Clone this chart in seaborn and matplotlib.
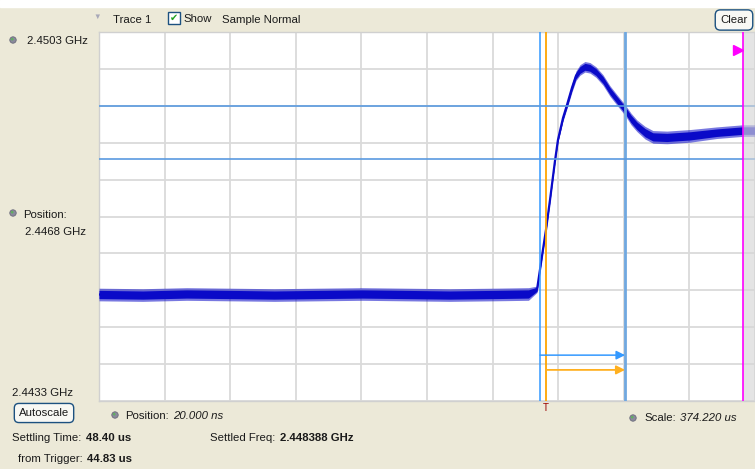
import numpy as np
import matplotlib
matplotlib.use('Agg')
import matplotlib.pyplot as plt
import seaborn as sns
from matplotlib.patches import Rectangle, Circle

# trace (time in us, frequency in GHz, noise half width in GHz)
trace_t = [0, 25, 50, 75, 100, 125, 150, 175, 200, 225, 245, 249.9, 251.6, 253.3,
           255.0, 257.3, 260.1, 261.8, 264.7, 267.0, 269.8, 272.1, 274.4, 277.2,
           280.1, 283.5, 287.5, 291.5, 295.5, 300.1, 303.5, 306.9, 311.5, 316.0,
           324.0, 337.3, 352.5, 367.4, 374.2]
trace_f = [2.44532, 2.44531, 2.44533, 2.44532, 2.44531, 2.44532, 2.44533, 2.44532,
           2.44531, 2.44532, 2.44533, 2.44542, 2.44580, 2.44618, 2.44655, 2.44712,
           2.44785, 2.44825, 2.44867, 2.44892, 2.44924, 2.44947, 2.44958, 2.44964,
           2.44962, 2.44954, 2.44939, 2.44918, 2.44901, 2.44882, 2.44865, 2.44852,
           2.44839, 2.44831, 2.44830, 2.44833, 2.44839, 2.44843, 2.44843]
trace_h = [0.00012, 0.00012, 0.00012, 0.00012, 0.00012, 0.00012, 0.00012, 0.00012,
           0.00012, 0.00012, 0.00012, 0.00006, 0.00003, 0.00003, 0.00003, 0.00003,
           0.00003, 0.00004, 0.00006, 0.00007, 0.00008, 0.00009, 0.00010, 0.00010,
           0.00010, 0.00010, 0.00010, 0.00010, 0.00010, 0.00010, 0.00011, 0.00011,
           0.00012, 0.00012, 0.00012, 0.00012, 0.00011, 0.00011, 0.00011]

# display settings
y_top, y_pos, y_bottom = 2.4503, 2.4468, 2.4433
x_scale = 374.220  # us across screen
settle_start = 251.6   # blue cursor
trigger_t = 255.0      # orange cursor
settle_end = 300.1     # settled cursor
settled_freq = 2.448388
tol = 0.0005
record_end = 367.4

sns.set_style('white')
plt.rcParams['font.family'] = ['Liberation Sans', 'DejaVu Sans']

bg = '#ECE9D8'
fig = plt.figure(figsize=(7.55, 4.69), dpi=100, facecolor=bg)
fig.patches.append(Rectangle((0, 1 - 7 / 469), 1, 7 / 469, transform=fig.transFigure,
                             color='white', zorder=0))
ax = fig.add_axes([99 / 755, 1 - 401 / 469, 656 / 755, 369 / 469])
ax.set_facecolor('white')

t = np.array(trace_t)
f = np.array(trace_f)
h = np.array(trace_h)
trace_col = '#0A0AC8'
# noisy band: soft outer edge, solid core
ax.fill_between(t, f - h, f + h, color=trace_col, alpha=0.55, lw=0, zorder=3)
ax.fill_between(t, f - 0.65 * h, f + 0.65 * h, color=trace_col, lw=0, zorder=3)
sns.lineplot(x=t, y=f, color=trace_col, lw=1.6, ax=ax, zorder=3)

ax.set_xlim(0, x_scale)
ax.set_ylim(y_bottom, y_top)
ax.set_xticks(np.linspace(0, x_scale, 11))
ax.set_yticks(np.linspace(y_bottom, y_top, 11))
ax.grid(True, color='#DADADA', lw=1.3)
ax.set_axisbelow(True)
ax.tick_params(length=0, labelbottom=False, labelleft=False)
ax.set_xlabel('')
ax.set_ylabel('')
for s in ax.spines.values():
    s.set_color('#D0D0D0')
    s.set_linewidth(1)

# cursors
ax.axvline(settle_start, color='#3399FF', lw=1.1, zorder=4)
ax.axvline(trigger_t, color='#FFA500', lw=1.3, zorder=4)
ax.axvline(settle_end, color='#70A8E0', lw=2, zorder=4)
ax.axhline(settled_freq + tol, color='#5A9AE0', lw=1.2, zorder=4)
ax.axhline(settled_freq - tol, color='#5A9AE0', lw=1.2, zorder=4)

ax.annotate('', xy=(settle_end, 2.44417), xytext=(settle_start, 2.44417),
            arrowprops=dict(arrowstyle='-|>', color='#3399FF', lw=1.1,
                            mutation_scale=13, shrinkA=0, shrinkB=0), zorder=5)
ax.annotate('', xy=(settle_end, 2.44389), xytext=(trigger_t, 2.44389),
            arrowprops=dict(arrowstyle='-|>', color='#FFB020', lw=1.3,
                            mutation_scale=13, shrinkA=0, shrinkB=0), zorder=5)

# area after end of record
ax.axvspan(record_end, x_scale, color='#D6D6D6', alpha=0.65, lw=0, zorder=5)
ax.axvline(record_end, color='#FF00FF', lw=1.2, zorder=6)
ax.plot([364.5], [2.44996], marker='>', color='#FF00FF', markersize=7, zorder=6)

# trigger mark
ax.text(trigger_t, -0.005, 'T', transform=ax.get_xaxis_transform(), color='#9A0000',
        fontsize=7, ha='center', va='top')


def ftxt(x, y, s, **kw):
    kw.setdefault('fontsize', 8.2)
    kw.setdefault('color', '#1A1A1A')
    kw.setdefault('va', 'center')
    return fig.text(x / 755, 1 - y / 469, s, **kw)


def chain(prev, s, **kw):
    kw.setdefault('fontsize', 8.2)
    kw.setdefault('color', '#1A1A1A')
    return ax.annotate(s, xy=(1, 0), xycoords=prev, xytext=(3, 0),
                       textcoords='offset points', va='bottom', **kw)


def knob(x, y):
    # small round spinner icon
    fig.patches.append(Circle((x, 469 - y), 3.2, transform=None, fc='#8A8A9C',
                              ec='#6A6A7A', lw=0.6))
    fig.patches.append(Circle((x - 0.8, 469 - y + 0.8), 1.3, transform=None,
                              fc='#5FAF5F', lw=0))


# header
ftxt(97, 17, '▼', fontsize=5.5, color='#A8A8B8', ha='center')
ftxt(113, 20, 'Trace 1')
ftxt(174, 18, '✔', fontsize=7, color='#21A121', ha='center',
     bbox=dict(boxstyle='square,pad=0.15', fc='white', ec='#1C5180', lw=1))
ftxt(183, 19, 'Show')
ftxt(222, 20, 'Sample Normal')
ftxt(734, 20, 'Clear', ha='center',
     bbox=dict(boxstyle='round,pad=0.45', fc='#F8F8F4', ec='#1C5180', lw=1))

# vertical scale labels
knob(13, 40)
ftxt(27, 41, '2.4503 GHz')
knob(13, 213)
ftxt(23, 215, 'Position:')
ftxt(25, 232, '2.4468 GHz')
ftxt(12, 393, '2.4433 GHz')

# footer
ftxt(44, 413, 'Autoscale', ha='center',
     bbox=dict(boxstyle='round,pad=0.4', fc='#F8F8F4', ec='#1C5180', lw=1))
knob(115, 415)
p = ftxt(125, 416, 'Position:')
chain(p, '20.000 ns', style='italic')
knob(633, 418)
p = ftxt(644, 418, 'Scale:')
chain(p, '374.220 us', style='italic')

p = ftxt(12, 438, 'Settling Time:')
chain(p, '48.40 us', fontweight='bold')
p = ftxt(210, 438, 'Settled Freq:')
chain(p, '2.448388 GHz', fontweight='bold')
p = ftxt(18, 459, 'from Trigger:')
chain(p, '44.83 us', fontweight='bold')

fig.savefig('out.png', dpi=100, facecolor=bg)
